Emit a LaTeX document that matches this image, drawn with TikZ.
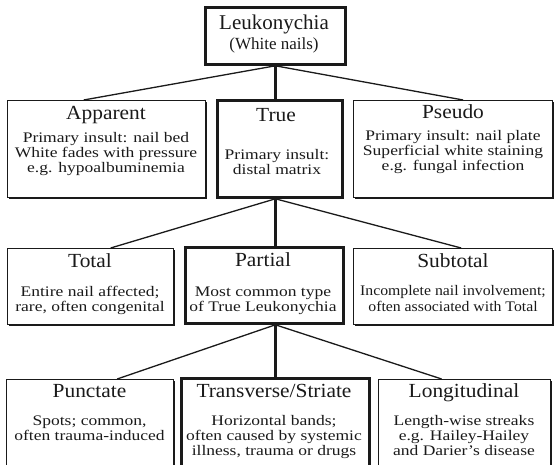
\documentclass[tikz,border=0pt]{standalone}
\usepackage{fontspec}
\setmainfont{Liberation Serif}
\newfontfamily\hdfont[FakeStretch=1.07]{Liberation Serif}
\newfontfamily\bdfont[FakeStretch=1.2]{Liberation Serif}
\newfontfamily\bdfontn[FakeStretch=1.08]{Liberation Serif}
\usetikzlibrary{shadows}
\definecolor{ink}{HTML}{1A1A1A}
\begin{document}
\begin{tikzpicture}[x=1pt,y=-1pt,
  box/.style={draw=ink, line width=1.3pt, fill=white, inner sep=0pt, anchor=north west,
    drop shadow={shadow xshift=1.4pt, shadow yshift=-1.4pt, fill=ink, opacity=1}},
  tbox/.style={box, line width=2.8pt},
  hd/.style={font=\hdfont\fontsize{20}{22}\selectfont, text=ink, inner sep=0pt, anchor=base},
  bd/.style={font=\bdfont\fontsize{14.6}{15}\selectfont, text=ink, inner sep=0pt, align=center, anchor=base},
  link/.style={draw=ink, line width=1.3pt},
  tlink/.style={draw=ink, line width=2.8pt},
]
\useasboundingbox (0,0) rectangle (556,465);
\clip (0,0) rectangle (556,465);
\fill[white] (0,0) rectangle (556,465);
% boxes
\node[tbox, minimum width=140pt, minimum height=57pt] (L) at (204,6) {};
\node[box, minimum width=198pt, minimum height=97pt] (app) at (7,100) {};
\node[tbox, minimum width=125pt, minimum height=97pt] (tru) at (216,99) {};
\node[box, minimum width=199pt, minimum height=97pt] (pse) at (353,100) {};
\node[box, minimum width=166pt, minimum height=76pt] (tot) at (7,248) {};
\node[tbox, minimum width=158pt, minimum height=76pt] (par) at (184,246) {};
\node[box, minimum width=199pt, minimum height=76pt] (sub) at (353,248) {};
\node[box, minimum width=167pt, minimum height=100pt] (pun) at (6,379) {};
\node[tbox, minimum width=188pt, minimum height=100pt] (tra) at (180,377) {};
\node[box, minimum width=172pt, minimum height=100pt] (lon) at (378,379) {};
% connectors
\draw[link] (L.south) -- ([xshift=-23pt]app.north);
\draw[tlink] (L.south) -- (L.south |- tru.north);
\draw[link] (L.south) -- ([xshift=10pt]pse.north);
\draw[link] (tru.south -| L.south) -- ([xshift=20pt]tot.north);
\draw[tlink] (tru.south -| L.south) -- (L.south |- par.north);
\draw[link] (tru.south -| L.south) -- ([xshift=8pt]sub.north);
\draw[link] (par.south -| L.south) -- ([xshift=27pt]pun.north);
\draw[tlink] (par.south -| L.south) -- (L.south |- tra.north);
\draw[link] (par.south -| L.south) -- ([xshift=-23pt]lon.north);
% texts
\node[font=\fontsize{21}{22}\selectfont, text=ink, inner sep=0pt, anchor=base] (Lh) at (274,30) {Leukonychia};
\node[font=\fontsize{17}{18}\selectfont, text=ink, inner sep=0pt, anchor=base] (Lb) at (274,50) {(White nails)};
\node[hd] (apph) at (106,119.5) {Apparent};
\node[bd] (appb) at (106,172.5) {Primary insult: nail bed\\White fades with pressure\\e.g. hypoalbuminemia};
\node[hd] (truh) at (276,121.5) {True};
\node[bd] (trub) at (277,174.3) {Primary insult:\\distal matrix};
\node[hd] (pseh) at (453,119) {Pseudo};
\node[bd] (pseb) at (453,171) {Primary insult: nail plate\\Superficial white staining\\e.g. fungal infection};
\node[hd] (toth) at (90,267.5) {Total};
\node[bd] (totb) at (90,311.5) {Entire nail affected;\\rare, often congenital};
\node[hd] (parh) at (263,266.5) {Partial};
\node[bd] (parb) at (263,311.7) {Most common type\\of True Leukonychia};
\node[hd] (subh) at (453,267.5) {Subtotal};
\node[bd, font=\bdfontn\fontsize{14.6}{16}\selectfont] (subb) at (453,311.5) {Incomplete nail involvement;\\often associated with Total};
\node[hd] (punh) at (89.5,397) {Punctate};
\node[bd] (punb) at (89.5,440.5) {Spots; common,\\often trauma-induced};
\node[hd] (trah) at (274,397) {Transverse/Striate};
\node[bd] (trab) at (274,455.5) {Horizontal bands;\\often caused by systemic\\illness, trauma or drugs};
\node[hd] (lonh) at (464,397) {Longitudinal};
\node[bd] (lonb) at (464,455.5) {Length-wise streaks\\e.g. Hailey-Hailey\\and Darier’s disease};
\end{tikzpicture}
\end{document}
